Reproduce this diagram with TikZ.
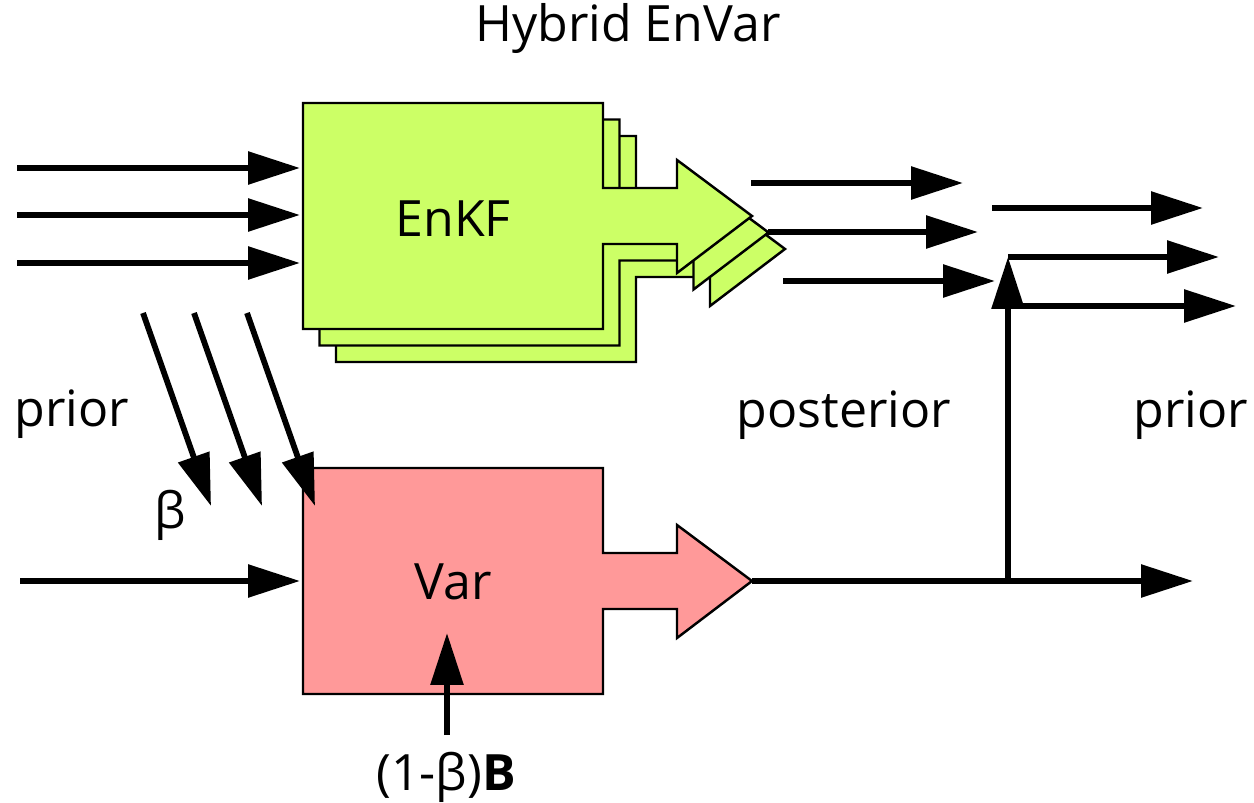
\documentclass[tikz,border=0pt]{standalone}
\usepackage{fontspec}
\setmainfont{Open Sans}
\usetikzlibrary{arrows.meta}
\definecolor{enkfgreen}{HTML}{CCFF66}
\definecolor{varpink}{HTML}{FF9999}
\tikzset{
	flow/.style={line width=3.3pt,-{Triangle[length=1.04cm,width=0.64cm]}},
	blockedge/.style={draw=black,line width=1.4pt,line join=miter},
	lab/.style={font=\fontsize{28.5}{34}\selectfont,inner sep=0pt},
}
\begin{document}
\begin{tikzpicture}[x=0.02cm,y=-0.02cm]
		\useasboundingbox (0,0) rectangle (1254,803);

		% EnKF, tres membres apilats
		\foreach \d in {33,16.5,0} {
			\filldraw[blockedge,fill=enkfgreen,shift={(\d,\d)}] (303,103) -- ++(300,0) -- ++(0,85) -- ++(74,0) -- ++(0,-28) -- ++(75,56) -- ++(-75,57) -- ++(0,-29) -- ++(-74,0) -- ++(0,85) -- ++(-300,0) -- cycle;
		}
		\node[lab] (enkf) at (453,219) {EnKF};

		% Var
		\filldraw[blockedge,fill=varpink] (303,468) -- ++(300,0) -- ++(0,85) -- ++(74,0) -- ++(0,-28) -- ++(75,56) -- ++(-75,57) -- ++(0,-29) -- ++(-74,0) -- ++(0,85) -- ++(-300,0) -- cycle;
		\node[lab] (var) at (453,582) {Var};

		% Entrades
		\foreach \y [count=\i] in {168,215,263} {
			\coordinate (in\i) at (17,\y);
			\coordinate (enkfin\i) at (300,\y);
			\draw[flow] (in\i) -- (enkfin\i);
		}
		\foreach \x [count=\i] in {143,194,247} {
			\coordinate (bs\i) at (\x,313);
			\coordinate (be\i) at (\x+68,506);
			\draw[flow] (bs\i) -- (be\i);
		}
		\coordinate (vin) at (20,581);
		\coordinate (varin) at (300,581);
		\draw[flow] (vin) -- (varin);
		\coordinate (bsrc) at (447,735);
		\coordinate (bdst) at (447,633);
		\draw[flow] (bsrc) -- (bdst);

		% Sortides
		\coordinate (vartip) at (752,581);
		\coordinate (split) at (1008,581);
		\coordinate (varout) at (1193,581);
		\coordinate (recenter) at (1008,257);
		\draw[flow] (vartip) -- (varout);
		\draw[flow] (split) -- (recenter);
		\foreach \xs/\xe/\y [count=\i] in {751/963/183,768/978/232,783/995/281} {
			\coordinate (ps\i) at (\xs,\y);
			\coordinate (pe\i) at (\xe,\y);
			\draw[flow] (ps\i) -- (pe\i);
		}
		\foreach \xs/\xe/\y [count=\i] in {992/1203/208,1008/1219/257,1023/1236/306} {
			\coordinate (rs\i) at (\xs,\y);
			\coordinate (re\i) at (\xe,\y);
			\draw[flow] (rs\i) -- (re\i);
		}

		% Etiquetes
		\node[lab,anchor=base] (title) at (628,42) {Hybrid EnVar};
		\node[lab,anchor=base west] (priorin) at (14,427) {prior};
		\node[lab] (beta) at (170,515) {β};
		\node[lab,anchor=base] (posterior) at (844,428) {posterior};
		\node[lab,anchor=base] (priorout) at (1191,428) {prior};
		\node[lab,anchor=base] (bweight) at (446,790) {(1-β)\textbf{B}};
	\end{tikzpicture}
\end{document}
